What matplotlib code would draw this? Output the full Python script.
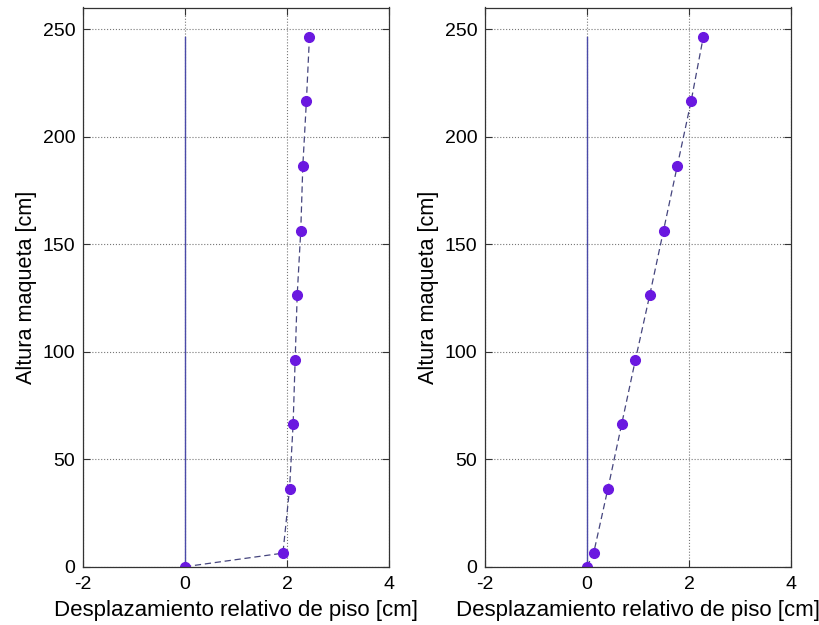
import numpy as np
import matplotlib
matplotlib.use('Agg')
import matplotlib.pyplot as plt

matplotlib.rcParams['font.family'] = 'Liberation Sans'
matplotlib.rcParams['font.size'] = 14
matplotlib.rcParams['axes.unicode_minus'] = False

# Alturas de piso de la maqueta [cm]
altura = [0, 6.3, 36.3, 66.3, 96.3, 126.3, 156.3, 186.3, 216.3, 246.3]

# Desplazamiento relativo de piso [cm]
despl_izq = [0, 1.92, 2.05, 2.12, 2.16, 2.20, 2.27, 2.31, 2.38, 2.44]
despl_der = [0, 0.13, 0.41, 0.68, 0.95, 1.23, 1.50, 1.77, 2.04, 2.28]

xticks = [-2, 0, 2, 4]
yticks = [0, 50, 100, 150, 200, 250]

fig = plt.figure(figsize=(8.19, 6.25), dpi=100)
W, H = 819, 625
ax_pos = [(83, 389), (485, 791)]
top, bottom = 7.5, 566.7

for (x0, x1), despl in zip(ax_pos, [despl_izq, despl_der]):
    ax = fig.add_axes([x0 / W, 1 - bottom / H, (x1 - x0) / W, (bottom - top) / H])
    ax.plot([0, 0], [0, altura[-1]], '-', color='#4a4aa8', lw=1.0)
    ax.plot(despl, altura, '--', color='#45457e', lw=0.9, dashes=(5, 3),
            marker='o', markersize=7, markerfacecolor='#6a18e0',
            markeredgecolor='#6a18e0')
    ax.set_xlim(-2, 4)
    ax.set_ylim(0, 260)
    ax.set_xticks(xticks)
    ax.set_yticks(yticks)
    ax.grid(True, ls=':', color='#777777', lw=0.8)
    ax.tick_params(direction='in', top=True, right=True, length=5,
                   width=0.8, colors='#333333', labelcolor='black',
                   labelsize=14)
    ax.tick_params(axis='x', pad=7)
    ax.tick_params(axis='y', pad=5.5)
    for s in ax.spines.values():
        s.set_color('#333333')
        s.set_linewidth(0.9)
    ax.set_xlabel('Desplazamiento relativo de piso [cm]', fontsize=16, labelpad=5)
    ax.set_ylabel('Altura maqueta [cm]', fontsize=15.6, labelpad=4)

plt.savefig('out.png', dpi=100)
